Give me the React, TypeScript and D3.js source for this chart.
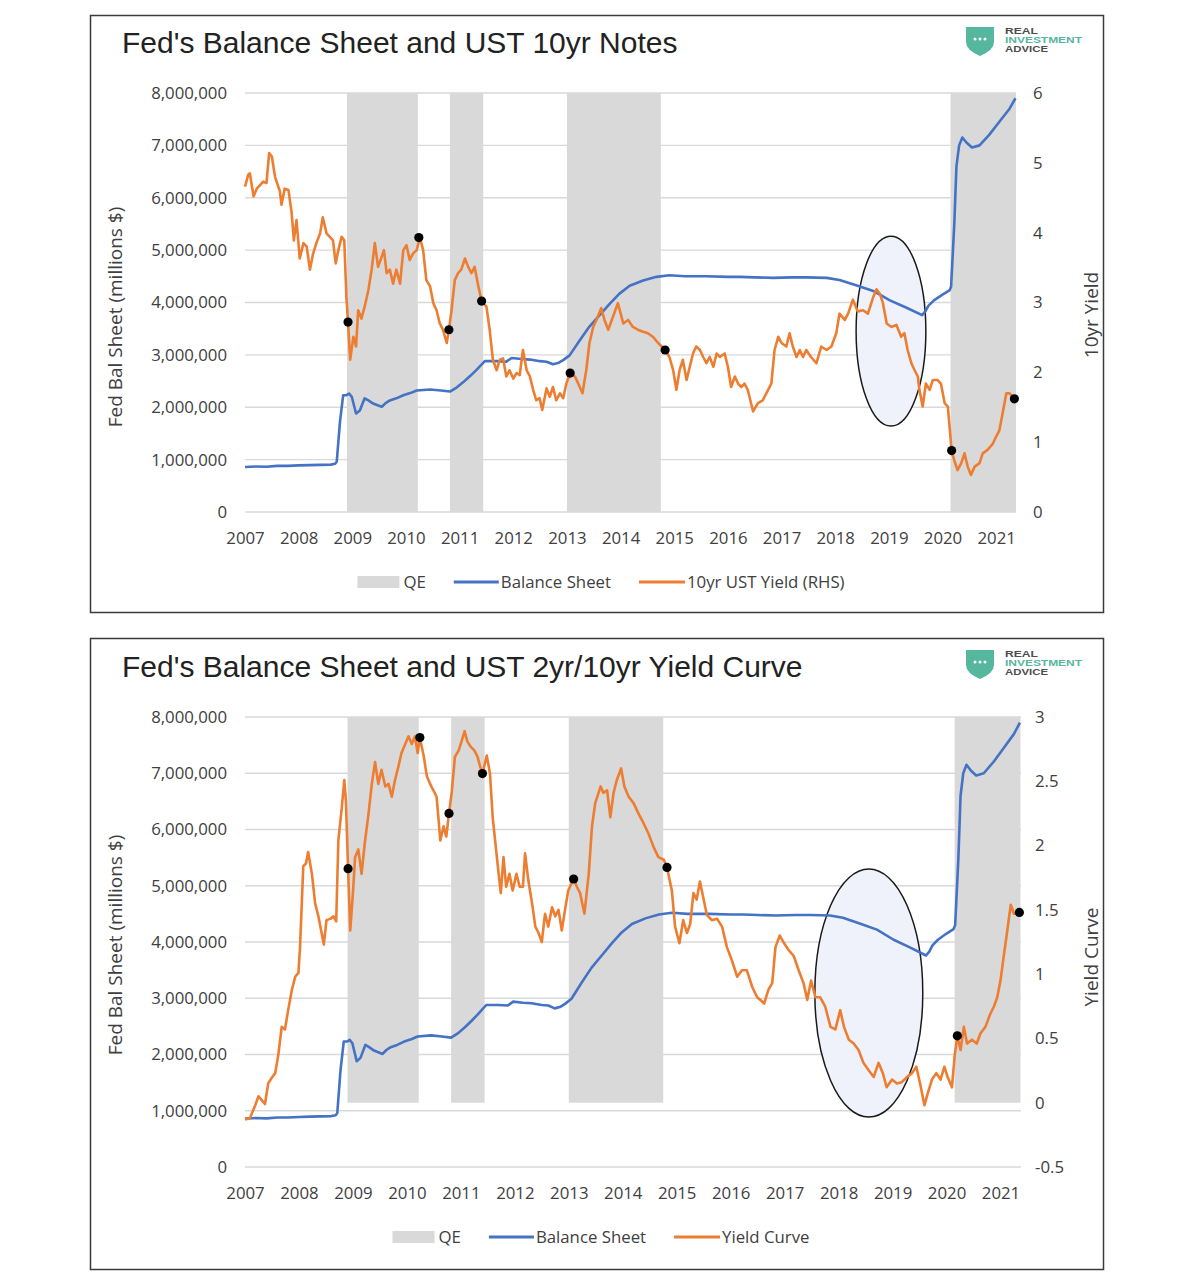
import React, { useEffect, useRef } from 'react';
import * as d3 from 'd3';

type Pt = [number, number];

// decimal year, $ millions
const balanceSheet: Pt[] = [
  [2007.0, 860000], [2007.2, 870000], [2007.4, 865000], [2007.6, 880000], [2007.8, 880000],
  [2008.0, 890000], [2008.2, 895000], [2008.4, 900000], [2008.6, 905000], [2008.68, 920000],
  [2008.71, 960000], [2008.77, 1720000], [2008.83, 2230000], [2008.89, 2230000], [2008.94, 2260000],
  [2008.99, 2200000], [2009.04, 2000000], [2009.07, 1880000], [2009.14, 1940000], [2009.23, 2170000],
  [2009.3, 2130000], [2009.39, 2070000], [2009.47, 2040000], [2009.55, 2010000], [2009.62, 2080000],
  [2009.7, 2130000], [2009.82, 2170000], [2009.95, 2230000], [2010.08, 2270000], [2010.2, 2320000],
  [2010.45, 2340000], [2010.65, 2320000], [2010.82, 2300000], [2010.95, 2380000], [2011.07, 2480000],
  [2011.2, 2600000], [2011.31, 2710000], [2011.47, 2880000], [2011.69, 2880000], [2011.87, 2870000],
  [2011.97, 2940000], [2012.15, 2920000], [2012.31, 2910000], [2012.5, 2880000], [2012.62, 2870000],
  [2012.74, 2820000], [2012.85, 2850000], [2012.93, 2900000], [2013.05, 2990000], [2013.24, 3280000],
  [2013.42, 3540000], [2013.61, 3760000], [2013.8, 3980000], [2013.98, 4170000], [2014.17, 4320000],
  [2014.42, 4420000], [2014.67, 4490000], [2014.91, 4520000], [2015.2, 4500000], [2015.6, 4500000],
  [2016.0, 4490000], [2016.22, 4490000], [2016.5, 4480000], [2016.84, 4470000], [2017.2, 4480000],
  [2017.46, 4480000], [2017.84, 4470000], [2018.08, 4430000], [2018.39, 4330000], [2018.71, 4220000],
  [2019.02, 4040000], [2019.33, 3900000], [2019.62, 3760000], [2019.68, 3830000], [2019.74, 3940000],
  [2019.84, 4040000], [2020.0, 4150000], [2020.13, 4230000], [2020.16, 4300000], [2020.18, 4700000],
  [2020.22, 5500000], [2020.26, 6600000], [2020.31, 7000000], [2020.37, 7150000], [2020.45, 7050000],
  [2020.55, 6960000], [2020.69, 7000000], [2020.87, 7200000], [2021.06, 7450000], [2021.25, 7700000],
  [2021.36, 7900000],
];

// 10yr UST yield, %
const tenYear: Pt[] = [
  [2007.0, 4.66], [2007.06, 4.83], [2007.09, 4.85], [2007.16, 4.52], [2007.22, 4.63], [2007.28, 4.68],
  [2007.34, 4.73], [2007.4, 4.71], [2007.45, 5.14], [2007.5, 5.09], [2007.56, 4.8], [2007.65, 4.59],
  [2007.68, 4.4], [2007.74, 4.63], [2007.81, 4.61], [2007.87, 4.28], [2007.91, 3.89], [2007.96, 4.18],
  [2008.02, 3.63], [2008.09, 3.85], [2008.15, 3.8], [2008.21, 3.47], [2008.27, 3.7], [2008.33, 3.85],
  [2008.4, 3.99], [2008.45, 4.22], [2008.52, 3.99], [2008.58, 3.94], [2008.64, 3.89], [2008.69, 3.56],
  [2008.74, 3.75], [2008.8, 3.94], [2008.85, 3.89], [2008.89, 3.08], [2008.92, 2.72], [2008.96, 2.18],
  [2009.02, 2.51], [2009.07, 2.37], [2009.11, 2.89], [2009.17, 2.77], [2009.23, 2.94], [2009.3, 3.18],
  [2009.36, 3.47], [2009.42, 3.85], [2009.48, 3.51], [2009.55, 3.66], [2009.59, 3.75], [2009.64, 3.42],
  [2009.7, 3.47], [2009.76, 3.27], [2009.82, 3.47], [2009.89, 3.27], [2009.95, 3.75], [2010.01, 3.82],
  [2010.07, 3.61], [2010.13, 3.7], [2010.2, 3.75], [2010.26, 3.93], [2010.32, 3.75], [2010.38, 3.32],
  [2010.45, 3.23], [2010.51, 2.99], [2010.57, 2.89], [2010.63, 2.7], [2010.69, 2.61], [2010.76, 2.42],
  [2010.8, 2.6], [2010.85, 2.89], [2010.91, 3.32], [2010.97, 3.42], [2011.03, 3.47], [2011.1, 3.63],
  [2011.16, 3.51], [2011.22, 3.42], [2011.28, 3.51], [2011.35, 3.23], [2011.41, 3.02], [2011.5, 2.94],
  [2011.56, 2.61], [2011.62, 2.18], [2011.69, 2.03], [2011.75, 2.18], [2011.81, 2.2], [2011.87, 1.94],
  [2011.93, 2.03], [2012.0, 1.91], [2012.06, 1.99], [2012.12, 1.96], [2012.18, 2.32], [2012.25, 2.03],
  [2012.31, 1.94], [2012.37, 1.75], [2012.43, 1.6], [2012.49, 1.63], [2012.54, 1.46], [2012.62, 1.77],
  [2012.68, 1.65], [2012.74, 1.79], [2012.8, 1.6], [2012.87, 1.7], [2012.93, 1.63], [2012.99, 1.84],
  [2013.06, 1.99], [2013.15, 1.94], [2013.21, 1.84], [2013.29, 1.7], [2013.36, 2.03], [2013.42, 2.42],
  [2013.49, 2.65], [2013.55, 2.75], [2013.64, 2.92], [2013.7, 2.75], [2013.77, 2.61], [2013.86, 2.8],
  [2013.95, 2.99], [2014.05, 2.7], [2014.14, 2.75], [2014.23, 2.65], [2014.32, 2.61], [2014.42, 2.58],
  [2014.51, 2.56], [2014.6, 2.51], [2014.7, 2.42], [2014.83, 2.32], [2014.91, 2.22], [2014.98, 2.03],
  [2015.04, 1.75], [2015.1, 2.03], [2015.16, 2.18], [2015.23, 1.89], [2015.29, 2.08], [2015.35, 2.27],
  [2015.41, 2.37], [2015.48, 2.32], [2015.54, 2.22], [2015.6, 2.13], [2015.66, 2.22], [2015.73, 2.08],
  [2015.79, 2.27], [2015.85, 2.22], [2015.94, 2.27], [2016.0, 2.08], [2016.06, 1.79], [2016.13, 1.94],
  [2016.19, 1.84], [2016.25, 1.79], [2016.31, 1.84], [2016.37, 1.75], [2016.47, 1.44], [2016.56, 1.56],
  [2016.65, 1.6], [2016.75, 1.75], [2016.81, 1.84], [2016.87, 2.32], [2016.94, 2.51], [2017.0, 2.42],
  [2017.09, 2.37], [2017.15, 2.56], [2017.21, 2.37], [2017.28, 2.22], [2017.34, 2.32], [2017.4, 2.22],
  [2017.46, 2.32], [2017.55, 2.22], [2017.65, 2.13], [2017.74, 2.37], [2017.84, 2.32], [2017.93, 2.37],
  [2018.02, 2.56], [2018.08, 2.84], [2018.18, 2.75], [2018.24, 2.84], [2018.33, 3.04], [2018.42, 2.87],
  [2018.52, 2.89], [2018.61, 2.84], [2018.71, 3.08], [2018.77, 3.19], [2018.83, 3.13], [2018.89, 2.99],
  [2018.96, 2.7], [2019.05, 2.65], [2019.14, 2.68], [2019.23, 2.51], [2019.29, 2.56], [2019.35, 2.32],
  [2019.42, 2.13], [2019.48, 2.03], [2019.54, 1.94], [2019.57, 1.75], [2019.63, 1.51], [2019.69, 1.84],
  [2019.76, 1.75], [2019.82, 1.89], [2019.91, 1.89], [2019.97, 1.84], [2020.04, 1.56], [2020.1, 1.51],
  [2020.17, 0.88], [2020.22, 0.74], [2020.28, 0.6], [2020.35, 0.7], [2020.41, 0.84], [2020.47, 0.65],
  [2020.53, 0.53], [2020.6, 0.65], [2020.69, 0.7], [2020.75, 0.84], [2020.84, 0.89], [2020.94, 0.98],
  [2021.0, 1.08], [2021.06, 1.17], [2021.12, 1.41], [2021.19, 1.7], [2021.25, 1.7], [2021.34, 1.62],
];

// 2yr/10yr spread, %
const yieldCurve: Pt[] = [
  [2007.0, -0.13], [2007.09, -0.12], [2007.19, -0.02], [2007.25, 0.05], [2007.31, 0.02], [2007.37, -0.01],
  [2007.43, 0.15], [2007.49, 0.19], [2007.56, 0.23], [2007.62, 0.38], [2007.68, 0.59], [2007.74, 0.57],
  [2007.8, 0.72], [2007.87, 0.88], [2007.93, 0.98], [2007.99, 1.01], [2008.02, 1.21], [2008.08, 1.84],
  [2008.13, 1.86], [2008.17, 1.95], [2008.24, 1.78], [2008.3, 1.55], [2008.36, 1.45], [2008.42, 1.32],
  [2008.46, 1.23], [2008.51, 1.42], [2008.58, 1.43], [2008.64, 1.45], [2008.69, 1.41], [2008.73, 2.04],
  [2008.79, 2.28], [2008.84, 2.51], [2008.87, 2.35], [2008.91, 1.82], [2008.95, 1.34], [2009.0, 1.63],
  [2009.04, 1.91], [2009.1, 1.97], [2009.16, 1.78], [2009.22, 2.02], [2009.29, 2.25], [2009.35, 2.48],
  [2009.41, 2.65], [2009.47, 2.48], [2009.53, 2.59], [2009.6, 2.46], [2009.66, 2.48], [2009.72, 2.38],
  [2009.78, 2.51], [2009.84, 2.61], [2009.9, 2.72], [2009.97, 2.79], [2010.03, 2.85], [2010.09, 2.79],
  [2010.15, 2.85], [2010.2, 2.72], [2010.24, 2.84], [2010.31, 2.7], [2010.37, 2.54], [2010.43, 2.48],
  [2010.49, 2.43], [2010.55, 2.38], [2010.62, 2.04], [2010.68, 2.15], [2010.73, 2.07], [2010.78, 2.25],
  [2010.83, 2.41], [2010.89, 2.69], [2010.96, 2.74], [2011.02, 2.82], [2011.07, 2.89], [2011.12, 2.81],
  [2011.18, 2.77], [2011.25, 2.74], [2011.31, 2.69], [2011.36, 2.61], [2011.4, 2.56], [2011.48, 2.7],
  [2011.54, 2.56], [2011.59, 2.22], [2011.64, 2.02], [2011.7, 1.78], [2011.74, 1.63], [2011.79, 1.91],
  [2011.84, 1.68], [2011.9, 1.78], [2011.96, 1.65], [2012.03, 1.78], [2012.09, 1.68], [2012.15, 1.68],
  [2012.19, 1.94], [2012.25, 1.73], [2012.32, 1.55], [2012.38, 1.37], [2012.44, 1.32], [2012.5, 1.25],
  [2012.56, 1.47], [2012.62, 1.37], [2012.69, 1.52], [2012.75, 1.45], [2012.81, 1.5], [2012.87, 1.34],
  [2012.93, 1.5], [2012.99, 1.65], [2013.09, 1.74], [2013.15, 1.68], [2013.21, 1.63], [2013.29, 1.47],
  [2013.37, 1.78], [2013.43, 2.15], [2013.49, 2.33], [2013.59, 2.46], [2013.64, 2.41], [2013.71, 2.43],
  [2013.77, 2.22], [2013.83, 2.41], [2013.89, 2.51], [2013.97, 2.6], [2014.03, 2.46], [2014.11, 2.38],
  [2014.2, 2.33], [2014.29, 2.25], [2014.39, 2.17], [2014.48, 2.09], [2014.57, 1.99], [2014.66, 1.91],
  [2014.76, 1.89], [2014.82, 1.83], [2014.91, 1.65], [2014.97, 1.37], [2015.05, 1.24], [2015.12, 1.42],
  [2015.19, 1.32], [2015.25, 1.39], [2015.31, 1.63], [2015.37, 1.58], [2015.43, 1.72], [2015.49, 1.6],
  [2015.56, 1.46], [2015.65, 1.42], [2015.75, 1.43], [2015.84, 1.37], [2015.93, 1.21], [2016.02, 1.11],
  [2016.12, 0.98], [2016.21, 1.03], [2016.3, 1.03], [2016.4, 0.9], [2016.49, 0.82], [2016.55, 0.8],
  [2016.62, 0.77], [2016.7, 0.88], [2016.77, 0.93], [2016.83, 1.21], [2016.91, 1.3], [2016.99, 1.24],
  [2017.07, 1.19], [2017.17, 1.14], [2017.26, 1.03], [2017.35, 0.93], [2017.42, 0.8], [2017.49, 0.95],
  [2017.57, 0.82], [2017.66, 0.82], [2017.75, 0.75], [2017.85, 0.59], [2017.94, 0.57], [2018.03, 0.72],
  [2018.1, 0.59], [2018.19, 0.49], [2018.28, 0.46], [2018.37, 0.41], [2018.46, 0.31], [2018.56, 0.25],
  [2018.65, 0.2], [2018.74, 0.31], [2018.82, 0.23], [2018.89, 0.12], [2018.99, 0.18], [2019.08, 0.15],
  [2019.17, 0.16], [2019.27, 0.2], [2019.36, 0.23], [2019.44, 0.28], [2019.51, 0.15], [2019.59, -0.02],
  [2019.65, 0.07], [2019.73, 0.18], [2019.81, 0.23], [2019.89, 0.18], [2019.96, 0.28], [2020.02, 0.2],
  [2020.1, 0.12], [2020.15, 0.36], [2020.2, 0.52], [2020.26, 0.41], [2020.32, 0.59], [2020.38, 0.46],
  [2020.47, 0.49], [2020.56, 0.46], [2020.63, 0.54], [2020.72, 0.59], [2020.81, 0.69], [2020.88, 0.75],
  [2020.94, 0.82], [2021.0, 0.95], [2021.06, 1.14], [2021.12, 1.32], [2021.19, 1.54], [2021.25, 1.47],
  [2021.35, 1.48],
];

// markers at the start / end of each QE round
const tenYearDots: Pt[] = [
  [2008.92, 2.72], [2010.24, 3.93], [2010.8, 2.61], [2011.41, 3.02],
  [2013.06, 1.99], [2014.83, 2.32], [2020.17, 0.88], [2021.34, 1.62],
];
const curveDots: Pt[] = [
  [2008.91, 1.82], [2010.24, 2.84], [2010.78, 2.25], [2011.4, 2.56],
  [2013.09, 1.74], [2014.82, 1.83], [2020.2, 0.52], [2021.35, 1.48],
];

const qePeriods: Pt[] = [
  [2008.9, 2010.22], [2010.82, 2011.44], [2013.0, 2014.75], [2020.15, 2021.37],
];

const yearTicks = [2007, 2008, 2009, 2010, 2011, 2012, 2013, 2014, 2015, 2016, 2017, 2018, 2019, 2020, 2021];
const balTicks = [0, 1000000, 2000000, 3000000, 4000000, 5000000, 6000000, 7000000, 8000000];
const tenYearTicks = [0, 1, 2, 3, 4, 5, 6];
const curveTicks = [-0.5, 0, 0.5, 1, 1.5, 2, 2.5, 3];

const BLUE = '#4472C4';
const ORANGE = '#ED7D31';
const GREY = '#D9D9D9';
const TEXT = '#404040';
const FONT = "'Open Sans', 'DejaVu Sans', sans-serif";
const PLOT_LEFT = 245;

type Panel = {
  boxTop: number;
  boxBottom: number;
  title: string;
  titleY: number;
  plotTop: number;
  plotBottom: number;
  plotRight: number;
  xMax: number;
  rightDomain: Pt;
  rightTicks: number[];
  rightPad: number;
  rightTitle: string;
  leftTitleY: number;
  rightTitleY: number;
  series: Pt[];
  dots: Pt[];
  seriesName: string;
  ellipse: { center: Pt; radius: Pt };
  legendY: number;
};

const panels: Panel[] = [
  {
    boxTop: 15, boxBottom: 612, title: "Fed's Balance Sheet and UST 10yr Notes", titleY: 53,
    plotTop: 93, plotBottom: 512, plotRight: 1016, xMax: 2021.37,
    rightDomain: [0, 6], rightTicks: tenYearTicks, rightPad: 17, rightTitle: '10yr Yield',
    leftTitleY: 317, rightTitleY: 315,
    series: tenYear, dots: tenYearDots, seriesName: '10yr UST Yield (RHS)',
    ellipse: { center: [2019.04, 2.59], radius: [0.65, 1.36] }, legendY: 582,
  },
  {
    boxTop: 638, boxBottom: 1269, title: "Fed's Balance Sheet and UST 2yr/10yr Yield Curve", titleY: 677,
    plotTop: 717, plotBottom: 1167, plotRight: 1021, xMax: 2021.38,
    rightDomain: [-0.5, 3], rightTicks: curveTicks, rightPad: 14, rightTitle: 'Yield Curve',
    leftTitleY: 945, rightTitleY: 957,
    series: yieldCurve, dots: curveDots, seriesName: 'Yield Curve',
    ellipse: { center: [2018.56, 0.853], radius: [1.0, 0.965] }, legendY: 1237,
  },
];

function drawLogo(g: any, x: number, y: number) {
  const logo = g.append('g').attr('transform', `translate(${x},${y})`);
  logo.append('path')
    .attr('d', 'M0,1 L28,1 L28,16 Q28,24 14,30 Q0,24 0,16 Z')
    .attr('fill', '#55B79D');
  logo.selectAll('circle').data([9, 14, 19]).join('circle')
    .attr('cx', (d: number) => d).attr('cy', 13).attr('r', 1.5).attr('fill', '#fff');
  const lines = [
    { t: 'REAL', c: '#4d4d4d', w: 33 },
    { t: 'INVESTMENT', c: '#55B79D', w: 77 },
    { t: 'ADVICE', c: '#4d4d4d', w: 43 },
  ];
  logo.selectAll('text').data(lines).join('text')
    .attr('x', 39).attr('y', (d: any, i: number) => 8 + i * 9)
    .attr('textLength', (d: any) => d.w).attr('lengthAdjust', 'spacingAndGlyphs')
    .attr('font-family', "'Liberation Sans', Arial, sans-serif").attr('font-weight', 700)
    .attr('font-size', 9.5).attr('fill', (d: any) => d.c).text((d: any) => d.t);
}

function drawPanel(svg: any, p: Panel) {
  const g = svg.append('g');
  const x = d3.scaleLinear().domain([2007, p.xMax]).range([PLOT_LEFT, p.plotRight]);
  const yL = d3.scaleLinear().domain([0, 8000000]).range([p.plotBottom, p.plotTop]);
  const yR = d3.scaleLinear().domain(p.rightDomain).range([p.plotBottom, p.plotTop]);

  g.append('rect')
    .attr('x', 90.5).attr('y', p.boxTop + 0.5)
    .attr('width', 1013).attr('height', p.boxBottom - p.boxTop)
    .attr('fill', '#fff').attr('stroke', '#3a3a3a').attr('stroke-width', 1.5);

  g.append('text')
    .attr('x', 122).attr('y', p.titleY)
    .attr('font-family', "'Liberation Sans', Arial, sans-serif").attr('font-size', 30)
    .attr('fill', '#222').text(p.title);
  drawLogo(g, 966, p.boxTop + 11);

  // gridlines
  g.append('g').selectAll('line').data(balTicks).join('line')
    .attr('x1', PLOT_LEFT).attr('x2', p.plotRight)
    .attr('y1', (d: number) => yL(d)).attr('y2', (d: number) => yL(d))
    .attr('stroke', GREY).attr('stroke-width', 1.4);

  // QE shading (secondary axis columns, 0 to max)
  g.append('g').selectAll('rect').data(qePeriods).join('rect')
    .attr('x', (d: Pt) => x(d[0])).attr('width', (d: Pt) => x(d[1]) - x(d[0]))
    .attr('y', yR(p.rightDomain[1])).attr('height', yR(0) - yR(p.rightDomain[1]))
    .attr('fill', GREY);

  const styleAxis = (a: any) => {
    a.select('.domain').remove();
    a.attr('font-family', FONT).attr('font-size', 16.8);
    a.selectAll('text').attr('fill', TEXT);
  };

  g.append('g').attr('transform', `translate(${PLOT_LEFT},0)`)
    .call(d3.axisLeft(yL).tickValues(balTicks).tickSize(0).tickPadding(18).tickFormat(d3.format(',') as any))
    .call(styleAxis);
  g.append('g').attr('transform', `translate(${p.plotRight},0)`)
    .call(d3.axisRight(yR).tickValues(p.rightTicks).tickSize(0).tickPadding(p.rightPad).tickFormat((d: any) => String(d)))
    .call(styleAxis);
  g.append('g').attr('transform', `translate(0,${p.plotBottom})`)
    .call(d3.axisBottom(x).tickValues(yearTicks).tickSize(0).tickPadding(20).tickFormat((d: any) => String(d)))
    .call(styleAxis);

  g.append('text')
    .attr('transform', `translate(115,${p.leftTitleY}) rotate(-90)`)
    .attr('text-anchor', 'middle').attr('dominant-baseline', 'central')
    .attr('font-family', FONT).attr('font-size', 19).attr('fill', TEXT)
    .text('Fed Bal Sheet (millions $)');
  g.append('text')
    .attr('transform', `translate(1091,${p.rightTitleY}) rotate(-90)`)
    .attr('text-anchor', 'middle').attr('dominant-baseline', 'central')
    .attr('font-family', FONT).attr('font-size', 19).attr('fill', TEXT)
    .text(p.rightTitle);

  // highlight ellipse sits behind the series
  const e = p.ellipse;
  g.append('ellipse')
    .attr('cx', x(e.center[0])).attr('cy', yR(e.center[1]))
    .attr('rx', x(e.center[0] + e.radius[0]) - x(e.center[0]))
    .attr('ry', yR(e.center[1]) - yR(e.center[1] + e.radius[1]))
    .attr('fill', '#EFF2FA')
    .attr('stroke', '#1a1a1a').attr('stroke-width', 1.5);

  const blueLine = d3.line<Pt>().x((d) => x(d[0])).y((d) => yL(d[1]));
  const orangeLine = d3.line<Pt>().x((d) => x(d[0])).y((d) => yR(d[1]));

  g.append('path').datum(balanceSheet).attr('d', blueLine)
    .attr('fill', 'none').attr('stroke', BLUE).attr('stroke-width', 2.6).attr('stroke-linejoin', 'round');
  g.append('path').datum(p.series).attr('d', orangeLine)
    .attr('fill', 'none').attr('stroke', ORANGE).attr('stroke-width', 2.6).attr('stroke-linejoin', 'round');

  g.append('g').selectAll('circle').data(p.dots).join('circle')
    .attr('cx', (d: Pt) => x(d[0])).attr('cy', (d: Pt) => yR(d[1]))
    .attr('r', 4.6).attr('fill', '#000');

  // legend, centred under the chart
  const items = [
    { name: 'QE', kind: 'box', color: GREY, w: 42 },
    { name: 'Balance Sheet', kind: 'line', color: BLUE, w: 45 },
    { name: p.seriesName, kind: 'line', color: ORANGE, w: 46 },
  ];
  const leg = g.append('g');
  let cursor = 0;
  items.forEach((it, i) => {
    if (it.kind === 'box') {
      leg.append('rect').attr('x', cursor).attr('y', p.legendY - 6).attr('width', it.w).attr('height', 12).attr('fill', it.color);
    } else {
      leg.append('line').attr('x1', cursor).attr('x2', cursor + it.w)
        .attr('y1', p.legendY).attr('y2', p.legendY).attr('stroke', it.color).attr('stroke-width', 3);
    }
    const tx = cursor + it.w + (it.kind === 'box' ? 4 : 2);
    const t = leg.append('text').attr('x', tx).attr('y', p.legendY).attr('dy', '0.35em')
      .attr('font-family', FONT).attr('font-size', 16.8).attr('fill', TEXT).text(it.name);
    const tw = (t.node() as SVGTextElement).getComputedTextLength();
    cursor = tx + tw + (i < items.length - 1 ? 28 : 0);
  });
  leg.attr('transform', `translate(${601 - cursor / 2},0)`);
}

export default function App() {
  const ref = useRef<SVGSVGElement>(null);

  useEffect(() => {
    if (!ref.current) return;
    const svg = d3.select(ref.current);
    svg.selectAll('*').remove();
    svg.append('rect').attr('width', 1183).attr('height', 1280).attr('fill', '#fff');
    panels.forEach((p) => drawPanel(svg, p));
  }, []);

  return (
    <svg
      ref={ref}
      width={1183}
      height={1280}
      viewBox="0 0 1183 1280"
      style={{ position: 'absolute', left: 0, top: 0, display: 'block' }}
    />
  );
}
